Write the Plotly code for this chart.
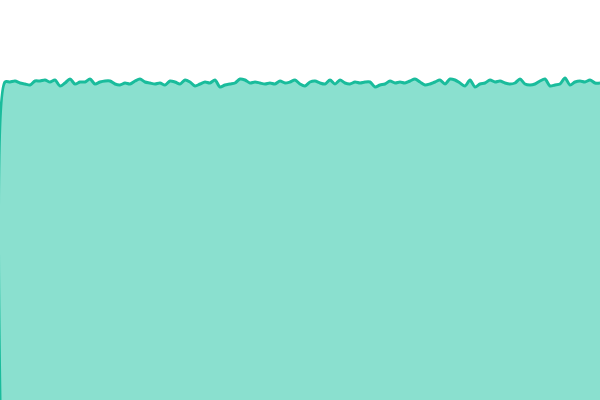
import plotly.graph_objects as go

# sample index (every 5 px of width) and values
idx = list(range(121))
values = [
    0, 318, 318, 319, 317, 316, 315, 319, 319, 320, 318, 320, 314, 317, 321, 316, 318, 318, 321, 316, 318,
    319, 319, 316, 315, 317, 316, 319, 321, 318, 317, 316, 317, 315, 319, 318, 316, 320, 318, 314, 316,
    318, 317, 320, 313, 315, 316, 317, 321, 320, 317, 318, 317, 316, 317, 316, 319, 317, 318, 320, 316,
    314, 318, 319, 317, 316, 320, 316, 320, 317, 316, 318, 317, 318, 318, 313, 315, 316, 319, 317, 318,
    317, 319, 321, 318, 315, 316, 318, 320, 316, 321, 320, 317, 314, 320, 313, 316, 317, 320, 318, 319,
    317, 316, 317, 321, 316, 315, 316, 319, 321, 314, 315, 316, 322, 315, 318, 319, 318, 320, 317, 317,
]

line_color = "rgb(26,188,156)"
fill_color = "rgb(138,224,207)"

fig = go.Figure(
    go.Scatter(
        x=idx,
        y=values,
        mode="lines",
        line=dict(color=line_color, width=3, shape="spline", smoothing=0.8),
        fill="tozeroy",
        fillcolor=fill_color,
        hoverinfo="skip",
    )
)

fig.update_layout(
    width=600,
    height=400,
    margin=dict(l=0, r=0, t=0, b=0),
    paper_bgcolor="white",
    plot_bgcolor="white",
    showlegend=False,
    xaxis=dict(range=[0, 120], visible=False, fixedrange=True),
    yaxis=dict(range=[0, 400], visible=False, fixedrange=True),
)

fig.write_html(
    "out.html",
    config={"displayModeBar": False},
    post_script="document.body.style.margin='0';document.body.style.overflow='hidden';",
)
